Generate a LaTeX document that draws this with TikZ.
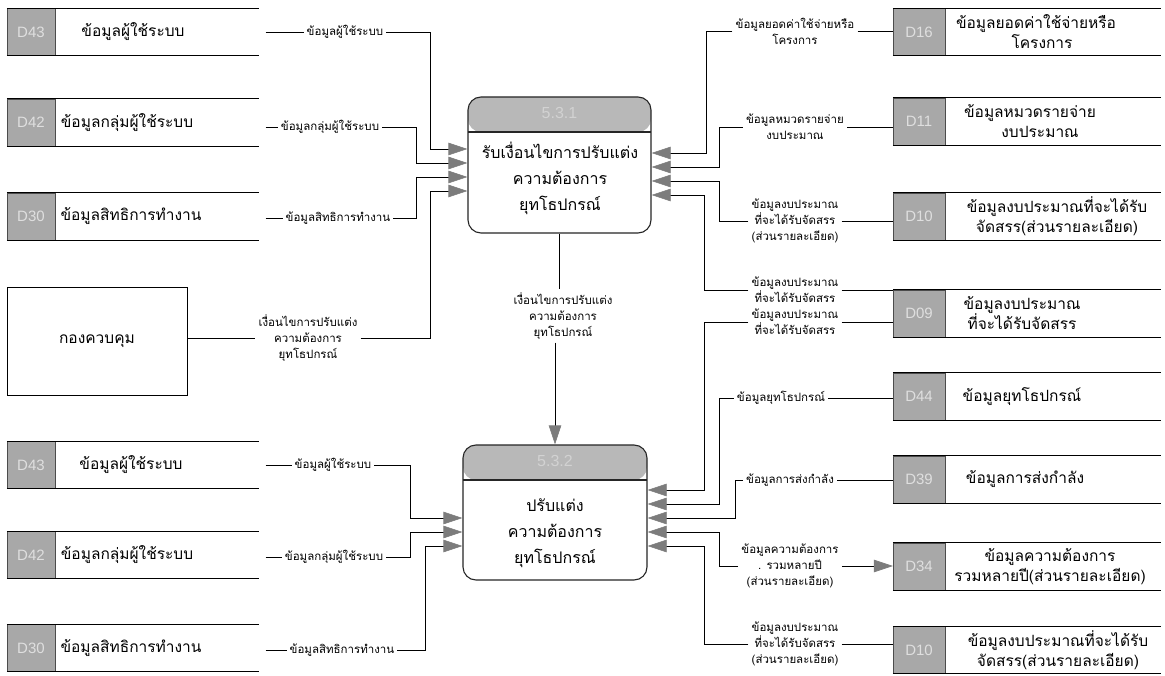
\documentclass[tikz,border=0pt]{standalone}
\usepackage{fontspec}
\setmainfont{Liberation Sans}
\newfontfamily\thai[Script=Thai]{Loma}
\usetikzlibrary{arrows.meta,calc}
\definecolor{idgray}{HTML}{A8A8A8}
\definecolor{hdgray}{HTML}{B8B8B8}
\definecolor{arrgray}{HTML}{7C7C7C}
\begin{document}
\begin{tikzpicture}[x=1pt,y=-1pt,
  idbox/.style={draw=black!70, fill=idgray, minimum width=48pt, minimum height=47pt, inner sep=0pt, font=\fontsize{15}{15}\selectfont, text=gray!25},
  stbody/.style={minimum height=47pt, inner sep=0pt, anchor=west},
  stline/.style={line width=1.1pt},
  sttext/.style={font=\thai\fontsize{15.5}{20}\selectfont, align=center, inner sep=0pt},
  flab/.style={font=\thai\fontsize{11.5}{16}\selectfont, align=center, inner sep=3pt},
  proc/.style={draw=black!85, line width=1.1pt, rounded corners=13pt, minimum width=183pt, minimum height=136pt, inner sep=0pt,
    path picture={\fill[hdgray] (path picture bounding box.north west) rectangle ([yshift=-35pt]path picture bounding box.north east);
      \draw[line width=1.1pt] ([yshift=-35pt]path picture bounding box.north west) -- ([yshift=-35pt]path picture bounding box.north east);}},
  hdtext/.style={font=\fontsize{16}{16}\selectfont, text=gray!35},
  ptext/.style={font=\thai\fontsize{16}{26}\selectfont, align=center, inner sep=0pt},
  flow/.style={draw=black, line width=0.6pt},
  arr/.style={flow, -{Triangle[length=19pt,width=12.5pt,color=arrgray]}},
]
\useasboundingbox[fill=white] (0,0) rectangle (1165,676);

% ---------- stores ----------
\newcommand\lstore[5]{%
  \node[idbox] (#1id) at (31,#3) {#2};
  \node[stbody, minimum width=203pt] (#1) at (#1id.east) {};
  \draw[stline] (#1id.north west) -- (#1.north east) (#1id.south west) -- (#1.south east);
  \node[sttext] (#1t) at (#5,#3) {#4};}
\newcommand\rstore[5]{%
  \node[idbox, minimum width=52pt] (#1id) at (919,#3) {#2};
  \node[stbody, minimum width=215pt] (#1) at (#1id.east) {};
  \draw[stline] (#1id.north west) -- (#1.north east) (#1id.south west) -- (#1.south east);
  \node[sttext] (#1t) at (#5,#3) {#4};}

\lstore{la}{D43}{32}{ข้อมูลผู้ใช้ระบบ}{133}
\lstore{lb}{D42}{122.5}{ข้อมูลกลุ่มผู้ใช้ระบบ}{127}
\lstore{lc}{D30}{216.5}{ข้อมูลสิทธิการทำงาน}{131}
\lstore{ld}{D43}{465}{ข้อมูลผู้ใช้ระบบ}{131}
\lstore{le}{D42}{555}{ข้อมูลกลุ่มผู้ใช้ระบบ}{127}
\lstore{lf}{D30}{648}{ข้อมูลสิทธิการทำงาน}{131}

\rstore{ra}{D16}{32}{ข้อมูลยอดค่าใช้จ่ายหรือ\\\hspace*{12pt}โครงการ}{1036}
\rstore{rb}{D11}{121.5}{ข้อมูลหมวดรายจ่าย\\\hspace*{20pt}งบประมาณ}{1030}
\rstore{rc}{D10}{216.5}{ข้อมูลงบประมาณที่จะได้รับ\\จัดสรร(ส่วนรายละเอียด)}{1057}
\rstore{rd}{D09}{313.5}{ข้อมูลงบประมาณ\\ที่จะได้รับจัดสรร}{1022}
\rstore{re}{D44}{396.5}{ข้อมูลยุทโธปกรณ์}{1022}
\rstore{rf}{D39}{479.5}{ข้อมูลการส่งกำลัง}{1025}
\rstore{rg}{D34}{566.5}{ข้อมูลความต้องการ\\รวมหลายปี(ส่วนรายละเอียด)}{1050}
\rstore{rh}{D10}{650}{ข้อมูลงบประมาณที่จะได้รับ\\จัดสรร(ส่วนรายละเอียด)}{1058}

% ---------- external entity ----------
\node[draw, line width=0.9pt, minimum width=180pt, minimum height=108pt, font=\thai\fontsize{15.5}{15}\selectfont] (ctl) at (97,341) {กองควบคุม};

% ---------- processes ----------
\node[proc] (p1) at (559.5,165) {};
\node[hdtext] (p1n) at ($(p1.north)+(0,17)$) {5.3.1};
\node[ptext] (p1t) at (560,178) {รับเงื่อนไขการปรับแต่ง\\ความต้องการ\\ยุทโธปกรณ์};

\node[proc, minimum width=184pt, minimum height=135pt] (p2) at (555,512.5) {};
\node[hdtext] (p2n) at ($(p2.north)+(0,17)$) {5.3.2};
\node[ptext] (p2t) at (555,533) {ปรับแต่ง\\ความต้องการ\\ยุทโธปกรณ์};

% entry points
\coordinate (p1l1) at (p1.west |- 0,149);
\coordinate (p1l2) at (p1.west |- 0,163);
\coordinate (p1l3) at (p1.west |- 0,177);
\coordinate (p1l4) at (p1.west |- 0,191);
\coordinate (p1r1) at (p1.east |- 0,153);
\coordinate (p1r2) at (p1.east |- 0,167);
\coordinate (p1r3) at (p1.east |- 0,181);
\coordinate (p1r4) at (p1.east |- 0,195);
\coordinate (p2l1) at (p2.west |- 0,518);
\coordinate (p2l2) at (p2.west |- 0,532);
\coordinate (p2l3) at (p2.west |- 0,546);
\coordinate (p2r1) at (p2.east |- 0,490);
\coordinate (p2r2) at (p2.east |- 0,504);
\coordinate (p2r3) at (p2.east |- 0,518);
\coordinate (p2r4) at (p2.east |- 0,532);
\coordinate (p2r5) at (p2.east |- 0,546);

% ---------- flow labels ----------
\node[flab] (f1) at (345,32) {ข้อมูลผู้ใช้ระบบ};
\node[flab] (f2) at (330,127) {ข้อมูลกลุ่มผู้ใช้ระบบ};
\node[flab] (f3) at (338,218) {ข้อมูลสิทธิการทำงาน};
\node[flab] (f4) at (308,338) {เงื่อนไขการปรับแต่ง\\ความต้องการ\\ยุทโธปกรณ์};
\node[flab] (g1) at (333,465) {ข้อมูลผู้ใช้ระบบ};
\node[flab] (g2) at (334,557) {ข้อมูลกลุ่มผู้ใช้ระบบ};
\node[flab] (g3) at (342,650) {ข้อมูลสิทธิการทำงาน};
\node[flab] (m1) at (563,316) {เงื่อนไขการปรับแต่ง\\ความต้องการ\\ยุทโธปกรณ์};
\node[flab] (r1) at (795,31) {ข้อมูลยอดค่าใช้จ่ายหรือ\\โครงการ};
\node[flab] (r2) at (795,127) {ข้อมูลหมวดรายจ่าย\\งบประมาณ};
\node[flab] (r3) at (795,221) {ข้อมูลงบประมาณ\\ที่จะได้รับจัดสรร\\(ส่วนรายละเอียด)};
\node[flab] (r4) at (795,290) {ข้อมูลงบประมาณ\\ที่จะได้รับจัดสรร};
\node[flab] (s1) at (795,322) {ข้อมูลงบประมาณ\\ที่จะได้รับจัดสรร};
\node[flab] (s2) at (781,398) {ข้อมูลยุทโธปกรณ์};
\node[flab] (s3) at (790,480) {ข้อมูลการส่งกำลัง};
\node[flab] (s4) at (790,566) {ข้อมูลความต้องการ\\. รวมหลายปี\\(ส่วนรายละเอียด)};
\node[flab] (s5) at (795,644) {ข้อมูลงบประมาณ\\ที่จะได้รับจัดสรร\\(ส่วนรายละเอียด)};

% ---------- connectors: left, into 5.3.1 ----------
\draw[flow] ([xshift=7pt]la.east |- f1.west) -- (f1.west);
\draw[arr] (f1.east) -- (f1.east -| 430,0) |- (p1l1);
\draw[flow] ([xshift=7pt]lb.east |- f2.west) -- (f2.west);
\draw[arr] (f2.east) -- (f2.east -| 416,0) |- (p1l2);
\draw[flow] ([xshift=7pt]lc.east |- f3.west) -- (f3.west);
\draw[arr] (f3.east) -- (f3.east -| 416,0) |- (p1l3);
\draw[flow] (ctl.east |- f4.west) -- (f4.west);
\draw[arr] (f4.east) -- (f4.east -| 430,0) |- (p1l4);

% ---------- connectors: left, into 5.3.2 ----------
\draw[flow] ([xshift=7pt]ld.east |- g1.west) -- (g1.west);
\draw[arr] (g1.east) -- (g1.east -| 410,0) |- (p2l1);
\draw[flow] ([xshift=7pt]le.east |- g2.west) -- (g2.west);
\draw[arr] (g2.east) -- (g2.east -| 410,0) |- (p2l2);
\draw[flow] ([xshift=7pt]lf.east |- g3.west) -- (g3.west);
\draw[arr] (g3.east) -- (g3.east -| 425,0) |- (p2l3);

% ---------- 5.3.1 -> 5.3.2 ----------
\draw[flow] (p1.south) -- (p1.south |- m1.north);
\draw[arr] (p2.north |- m1.south) -- (p2.north);

% ---------- connectors: right of 5.3.1 ----------
\draw[flow] (r1.east) -- (raid.west |- r1.east);
\draw[arr] (r1.west) -- (r1.west -| 706,0) |- (p1r1);
\draw[flow] (r2.east) -- (rbid.west |- r2.east);
\draw[arr] (r2.west) -- (r2.west -| 719,0) |- (p1r2);
\draw[flow] (r3.east) -- (rcid.west |- r3.east);
\draw[arr] (r3.west) -- (r3.west -| 719,0) |- (p1r3);
\draw[flow] (r4.east) -- (rdid.west |- r4.east);
\draw[arr] (r4.west) -- (r4.west -| 704,0) |- (p1r4);

% ---------- connectors: right of 5.3.2 ----------
\draw[flow] (s1.east) -- (rdid.west |- s1.east);
\draw[arr] (s1.west) -- (s1.west -| 704,0) |- (p2r1);
\draw[flow] (s2.east) -- (reid.west |- s2.east);
\draw[arr] (s2.west) -- (s2.west -| 719,0) |- (p2r2);
\draw[flow] (s3.east) -- (rfid.west |- s3.east);
\draw[arr] (s3.west) -- (s3.west -| 735,0) |- (p2r3);
\draw[arr] (s4.east) -- (rgid.west |- s4.east);
\draw[arr] (s4.west) -- (s4.west -| 719,0) |- (p2r4);
\draw[flow] (s5.east) -- (rhid.west |- s5.east);
\draw[arr] (s5.west) -- (s5.west -| 704,0) |- (p2r5);
\end{tikzpicture}
\end{document}
